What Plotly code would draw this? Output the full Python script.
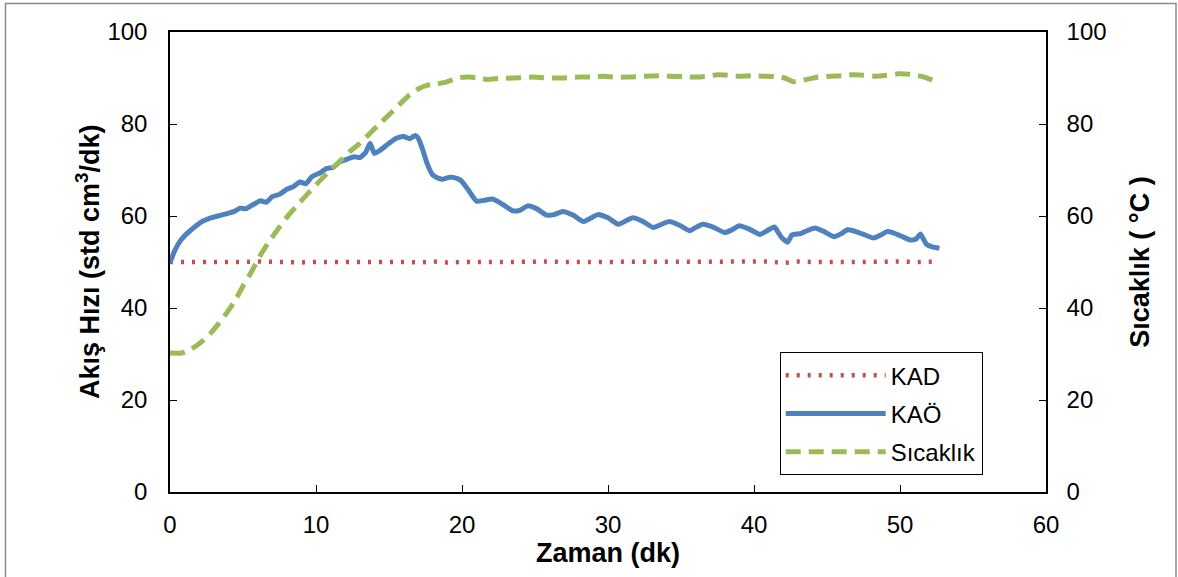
import plotly.graph_objects as go

# ---------------- data ----------------
kad_t = [0, 1, 2, 3, 4, 5, 6, 7, 8, 9, 10, 11, 12, 13, 14, 15, 16, 17, 18, 19,
         20, 21, 22, 23, 24, 25, 26, 27, 28, 29, 30, 31, 32, 33, 34, 35, 36, 37,
         38, 39, 40, 41, 42, 43, 44, 45, 46, 47, 48, 49, 50, 51, 52, 52.7]
kad_v = [50.0, 50.1, 50.0, 50.0, 49.9, 50.0, 50.1, 50.0, 50.0, 49.9, 50.0, 50.1,
         50.0, 50.0, 50.1, 50.0, 50.0, 49.9, 50.1, 49.9, 50.0, 50.1, 50.0, 50.0,
         50.1, 50.0, 50.1, 50.0, 50.0, 50.1, 50.0, 50.0, 50.1, 50.0, 50.0, 50.1,
         50.0, 50.0, 50.1, 49.9, 50.0, 50.1, 49.8, 50.1, 50.0, 50.1, 50.0, 50.0,
         50.1, 50.0, 50.1, 50.0, 50.1, 50.1]

kao_t = [0, 0.3, 0.7, 1.1, 1.6, 2.2, 2.9, 3.4, 3.9, 4.4, 4.8, 5.2, 5.6, 6.2, 6.6,
         7.0, 7.5, 8.0, 8.4, 8.9, 9.3, 9.7, 10.3, 10.7, 11.2, 11.6, 12.1, 12.6,
         13.0, 13.4, 13.7, 14.0, 14.4, 15.0, 15.5, 16.0, 16.4, 16.8, 17.0, 17.3,
         17.6, 18.0, 18.4, 18.7, 19.1, 19.4, 19.9, 20.4, 21.0, 21.5, 22.1, 22.8,
         23.5, 24.0, 24.5, 25.1, 25.8, 26.3, 26.9, 27.6, 28.3, 28.8, 29.3, 30.0,
         30.7, 31.2, 31.7, 32.4, 33.1, 33.6, 34.2, 34.9, 35.6, 36.0, 36.5, 37.2,
         38.0, 38.5, 39.0, 39.7, 40.4, 40.9, 41.4, 41.7, 41.9, 42.3, 42.6, 43.2,
         43.7, 44.2, 44.8, 45.5, 46.0, 46.4, 46.8, 47.5, 48.2, 48.7, 49.1, 49.5,
         50.1, 50.7, 51.1, 51.4, 51.6, 51.8, 52.2, 52.7]
kao_v = [49.8, 52.3, 54.6, 56.0, 57.4, 58.8, 59.7, 60.1, 60.5, 61.0, 61.7, 61.6,
         62.3, 63.3, 63.0, 64.2, 64.7, 65.8, 66.3, 67.4, 67.0, 68.5, 69.4, 70.3,
         70.6, 71.7, 72.3, 72.9, 72.7, 73.8, 75.8, 73.6, 74.3, 75.8, 76.9, 77.3,
         76.8, 77.5, 76.9, 74.5, 71.5, 68.9, 68.2, 68.0, 68.4, 68.4, 67.8, 65.8,
         63.2, 63.4, 63.7, 62.5, 61.1, 61.3, 62.2, 61.6, 60.2, 60.3, 61.0, 60.2,
         58.8, 59.5, 60.3, 59.6, 58.2, 58.9, 59.6, 58.8, 57.5, 58.1, 58.8, 58.0,
         56.8, 57.5, 58.2, 57.6, 56.4, 57.0, 57.9, 57.1, 56.0, 56.8, 57.6, 56.2,
         55.3, 54.3, 55.9, 56.2, 56.9, 57.4, 56.6, 55.5, 56.2, 57.0, 56.8, 56.0,
         55.2, 55.9, 56.6, 56.4, 55.6, 54.8, 55.0, 56.1, 55.0, 53.9, 53.3, 53.0]

sic_t = [0, 0.8, 1.3, 1.8, 2.3, 2.8, 3.3, 3.9, 4.5, 5.0, 5.6, 6.2, 6.8, 7.5, 8.2,
         8.9, 9.6, 10.3, 11.0, 11.6, 12.3, 13.0, 13.7, 14.4, 15.2, 15.8, 16.4,
         17.0, 17.6, 18.3, 19.0, 19.7, 20.3, 21.0, 21.7, 22.6, 23.5, 24.2, 24.9,
         25.8, 26.7, 27.4, 28.1, 28.9, 29.7, 30.5, 31.3, 32.0, 32.7, 33.5, 34.2,
         35.1, 36.1, 36.8, 37.5, 38.2, 39.0, 39.8, 40.6, 41.4, 42.1, 42.7, 43.6,
         44.4, 45.2, 46.0, 46.7, 47.5, 48.3, 49.1, 49.9, 50.7, 51.4, 52.0, 52.6]
sic_v = [30.2, 30.2, 30.8, 31.8, 33.0, 34.6, 36.5, 39.0, 41.8, 44.8, 48.0, 51.5,
         54.5, 57.6, 60.5, 63.0, 65.4, 67.8, 70.0, 71.8, 74.0, 75.8, 78.0, 80.2,
         82.6, 84.5, 86.3, 87.6, 88.4, 88.7, 89.2, 90.0, 90.2, 90.1, 89.7, 89.9,
         90.0, 90.1, 90.2, 90.0, 90.0, 90.1, 90.2, 90.2, 90.4, 90.2, 90.2, 90.3,
         90.4, 90.5, 90.4, 90.3, 90.2, 90.4, 90.7, 90.6, 90.4, 90.5, 90.4, 90.3,
         90.0, 89.2, 89.7, 90.2, 90.4, 90.5, 90.7, 90.6, 90.4, 90.6, 90.9, 90.8,
         90.4, 89.8, 88.9]

assert len(kad_t) == len(kad_v)
assert len(kao_t) == len(kao_v)
assert len(sic_t) == len(sic_v)

x_ticks = [0, 10, 20, 30, 40, 50, 60]
y_ticks = [0, 20, 40, 60, 80, 100]

FONT = "Liberation Sans, Arial, sans-serif"
TICK_SIZE = 24
TITLE_SIZE = 27

fig = go.Figure()
fig.add_trace(go.Scatter(x=kad_t, y=kad_v, mode="lines", name="KAD",
                         line=dict(color="#C0504D", width=4.5, dash="3px,8px"),
                         legendgroup="a"))
fig.add_trace(go.Scatter(x=kao_t, y=kao_v, mode="lines", name="KAÖ",
                         line=dict(color="#4F81BD", width=5, shape="spline",
                                   smoothing=0.5),
                         legendgroup="b"))
fig.add_trace(go.Scatter(x=sic_t, y=sic_v, mode="lines", name="Sıcaklık",
                         line=dict(color="#9BBB59", width=5, dash="15px,8px",
                                   shape="spline", smoothing=0.5),
                         yaxis="y2", legendgroup="c"))

axis_common = dict(showgrid=False, zeroline=False, showline=True,
                   linecolor="black", linewidth=1.5, ticks="inside", ticklen=7,
                   tickcolor="black", tickwidth=1.2,
                   tickfont=dict(family=FONT, size=TICK_SIZE, color="black"))

fig.update_layout(
    width=1178, height=577,
    margin=dict(l=170, r=132, t=32, b=85),
    paper_bgcolor="white", plot_bgcolor="white",
    font=dict(family=FONT, size=TICK_SIZE, color="black"),
    xaxis=dict(range=[0, 60], tickvals=x_ticks, ticklabelstandoff=10,
               mirror=True, **axis_common),
    yaxis=dict(range=[0, 100], tickvals=y_ticks, ticklabelstandoff=16,
               **axis_common),
    yaxis2=dict(range=[0, 100], tickvals=y_ticks, overlaying="y", side="right",
                ticklabelstandoff=14, **axis_common),
    showlegend=True,
    legend=dict(x=0.696, y=0.304, xanchor="left", yanchor="top",
                bordercolor="black", borderwidth=1, bgcolor="white",
                font=dict(family=FONT, size=TICK_SIZE, color="black"),
                tracegroupgap=4, itemwidth=100),
    annotations=[
        dict(text="Akış Hızı (std cm<sup>3</sup>/dk)", xref="paper", yref="paper",
             x=-0.0936, y=0.5, xanchor="center", yanchor="middle",
             textangle=-90, showarrow=False,
             font=dict(family=FONT, size=TITLE_SIZE, color="black", weight="bold")),
        dict(text="Sıcaklık ( °C )", xref="paper", yref="paper",
             x=1.107, y=0.5, xanchor="center", yanchor="middle",
             textangle=-90, showarrow=False,
             font=dict(family=FONT, size=TITLE_SIZE, color="black", weight="bold")),
        dict(text="Zaman (dk)", xref="paper", yref="paper",
             x=0.5, y=-0.1326, xanchor="center", yanchor="middle",
             showarrow=False,
             font=dict(family=FONT, size=TITLE_SIZE, color="black", weight="bold")),
    ],
    shapes=[
        dict(type="rect", xref="paper", yref="paper",
             x0=-0.1878, x1=1.1484, y0=-0.25, y1=1.062,
             line=dict(color="#8C8C8C", width=1.5), fillcolor="rgba(0,0,0,0)",
             layer="below"),
    ],
)

fig.write_html("out.html", config={"displayModeBar": False},
               post_script="document.body.style.margin='0';document.body.style.overflow='hidden';")
